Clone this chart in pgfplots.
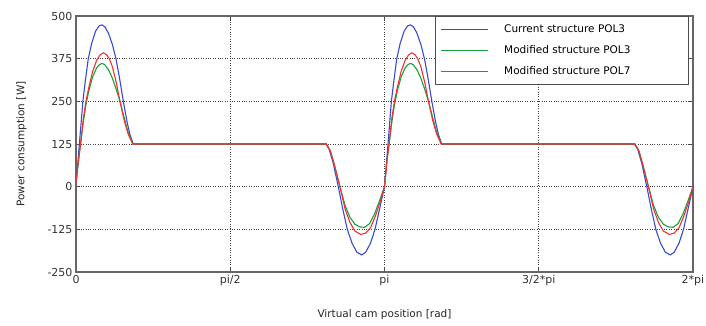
\documentclass[border=0pt]{standalone}
\usepackage{fontspec}
\setmainfont{DejaVu Sans}
\usepackage{pgfplots}
\pgfplotsset{compat=1.18}
\definecolor{cblue}{RGB}{55,75,205}
\definecolor{cgreen}{RGB}{25,160,60}
\definecolor{cred}{RGB}{240,50,50}
\begin{document}
\begin{tikzpicture}[x=1pt,y=1pt]
\path[use as bounding box] (0,0) rectangle (706,326);
\begin{axis}[
  at={(76pt,54pt)}, anchor=south west,
  scale only axis, width=617pt, height=256pt,
  xmin=0, xmax=6.28319, ymin=-250, ymax=500,
  xtick={0,1.5708,3.14159,4.71239,6.28319},
  xticklabels={0,pi/2,pi,3/2*pi,2*pi},
  ytick={-250,-125,0,125,250,375,500},
  yticklabels={-250,-125,0,125,250,375,500},
  grid=major,
  grid style={dotted, black!75, line width=0.9pt},
  axis line style={black!60, line width=1.3pt},
  tick style={black!70, line width=0.8pt},
  tick align=inside, major tick length=4pt,
  tick label style={font=\fontsize{11}{13}\selectfont, text=black!80},
  label style={font=\fontsize{10.5}{12}\selectfont, text=black!85},
  xlabel={Virtual cam position [rad]},
  ylabel={Power consumption [W]},
  xlabel style={yshift=-16pt},
  ylabel style={yshift=14pt},
  legend style={at={(1,1)}, xshift=-4pt, anchor=north east, draw=black!70, line width=1pt,
    font=\fontsize{10.5}{12}\selectfont, row sep=7.5pt, inner xsep=5pt, inner ysep=6.5pt, fill=white},
  legend cell align=left,
  legend image code/.code={\draw[#1, line width=1pt] (0pt,0pt) -- (47pt,0pt);},
]
\addplot[cblue, line width=1.1pt] coordinates {(0,10)(0.02,75)(0.04,145)(0.07,250)(0.095,310)(0.125,375)(0.16,420)(0.20,456)(0.235,471)(0.265,474)(0.295,468)(0.33,450)(0.37,417)(0.407,375)(0.445,315)(0.482,250)(0.52,190)(0.55,152)(0.583,125)(2.546,125)(2.58,108)(2.62,68)(2.671,0)(2.72,-70)(2.763,-125)(2.81,-165)(2.86,-192)(2.909,-200)(2.95,-192)(3.00,-165)(3.045,-125)(3.09,-67)(3.1416,0)(3.1616,70)(3.1816,140)(3.2116,250)(3.2366,310)(3.2666,375)(3.3016,420)(3.3416,456)(3.3766,471)(3.4066,474)(3.4366,468)(3.4716,450)(3.5116,417)(3.5486,375)(3.5866,315)(3.6236,250)(3.6616,190)(3.6916,152)(3.7246,125)(5.6876,125)(5.7216,108)(5.7616,68)(5.8126,0)(5.8616,-70)(5.9046,-125)(5.9516,-165)(6.0016,-192)(6.0506,-200)(6.0916,-192)(6.1416,-165)(6.1866,-125)(6.2316,-67)(6.2832,0)};
\addlegendentry{\hspace*{14pt}Current structure POL3}
\addplot[cgreen, line width=1.1pt] coordinates {(0,10)(0.025,75)(0.05,132)(0.075,190)(0.10,238)(0.13,280)(0.17,322)(0.21,348)(0.24,358)(0.265,361)(0.29,358)(0.33,343)(0.37,318)(0.41,285)(0.45,248)(0.49,203)(0.53,160)(0.58,125)(2.55,125)(2.59,105)(2.63,65)(2.688,0)(2.74,-55)(2.79,-90)(2.84,-110)(2.89,-118)(2.94,-119)(2.99,-108)(3.04,-80)(3.09,-42)(3.1416,0)(3.1666,75)(3.1916,132)(3.2166,190)(3.2416,238)(3.2716,280)(3.3116,322)(3.3516,348)(3.3816,358)(3.4066,361)(3.4316,358)(3.4716,343)(3.5116,318)(3.5516,285)(3.5916,248)(3.6316,203)(3.6716,160)(3.7216,125)(5.6916,125)(5.7316,105)(5.7716,65)(5.8296,0)(5.8816,-55)(5.9316,-90)(5.9816,-110)(6.0316,-118)(6.0816,-119)(6.1316,-108)(6.1816,-80)(6.2316,-42)(6.2832,0)};
\addlegendentry{\hspace*{14pt}Modified structure POL3\hspace*{51pt}}
\addplot[cred, line width=1.1pt] coordinates {(0,10)(0.025,75)(0.05,135)(0.075,200)(0.10,248)(0.13,290)(0.17,338)(0.21,370)(0.245,386)(0.278,392)(0.31,387)(0.339,375)(0.37,352)(0.41,305)(0.448,250)(0.49,195)(0.53,155)(0.577,125)(2.55,125)(2.59,105)(2.63,65)(2.688,0)(2.74,-65)(2.79,-105)(2.84,-130)(2.90,-140)(2.95,-136)(3.00,-120)(3.05,-85)(3.10,-42)(3.1416,0)(3.1666,75)(3.1916,135)(3.2166,200)(3.2416,248)(3.2716,290)(3.3116,338)(3.3516,370)(3.3866,386)(3.4196,392)(3.4516,387)(3.4806,375)(3.5116,352)(3.5516,305)(3.5896,250)(3.6316,195)(3.6716,155)(3.7186,125)(5.6916,125)(5.7316,105)(5.7716,65)(5.8296,0)(5.8816,-65)(5.9316,-105)(5.9816,-130)(6.0416,-140)(6.0916,-136)(6.1416,-120)(6.1916,-85)(6.2416,-42)(6.2832,0)};
\addlegendentry{\hspace*{14pt}Modified structure POL7}
\end{axis}
\end{tikzpicture}
\end{document}
